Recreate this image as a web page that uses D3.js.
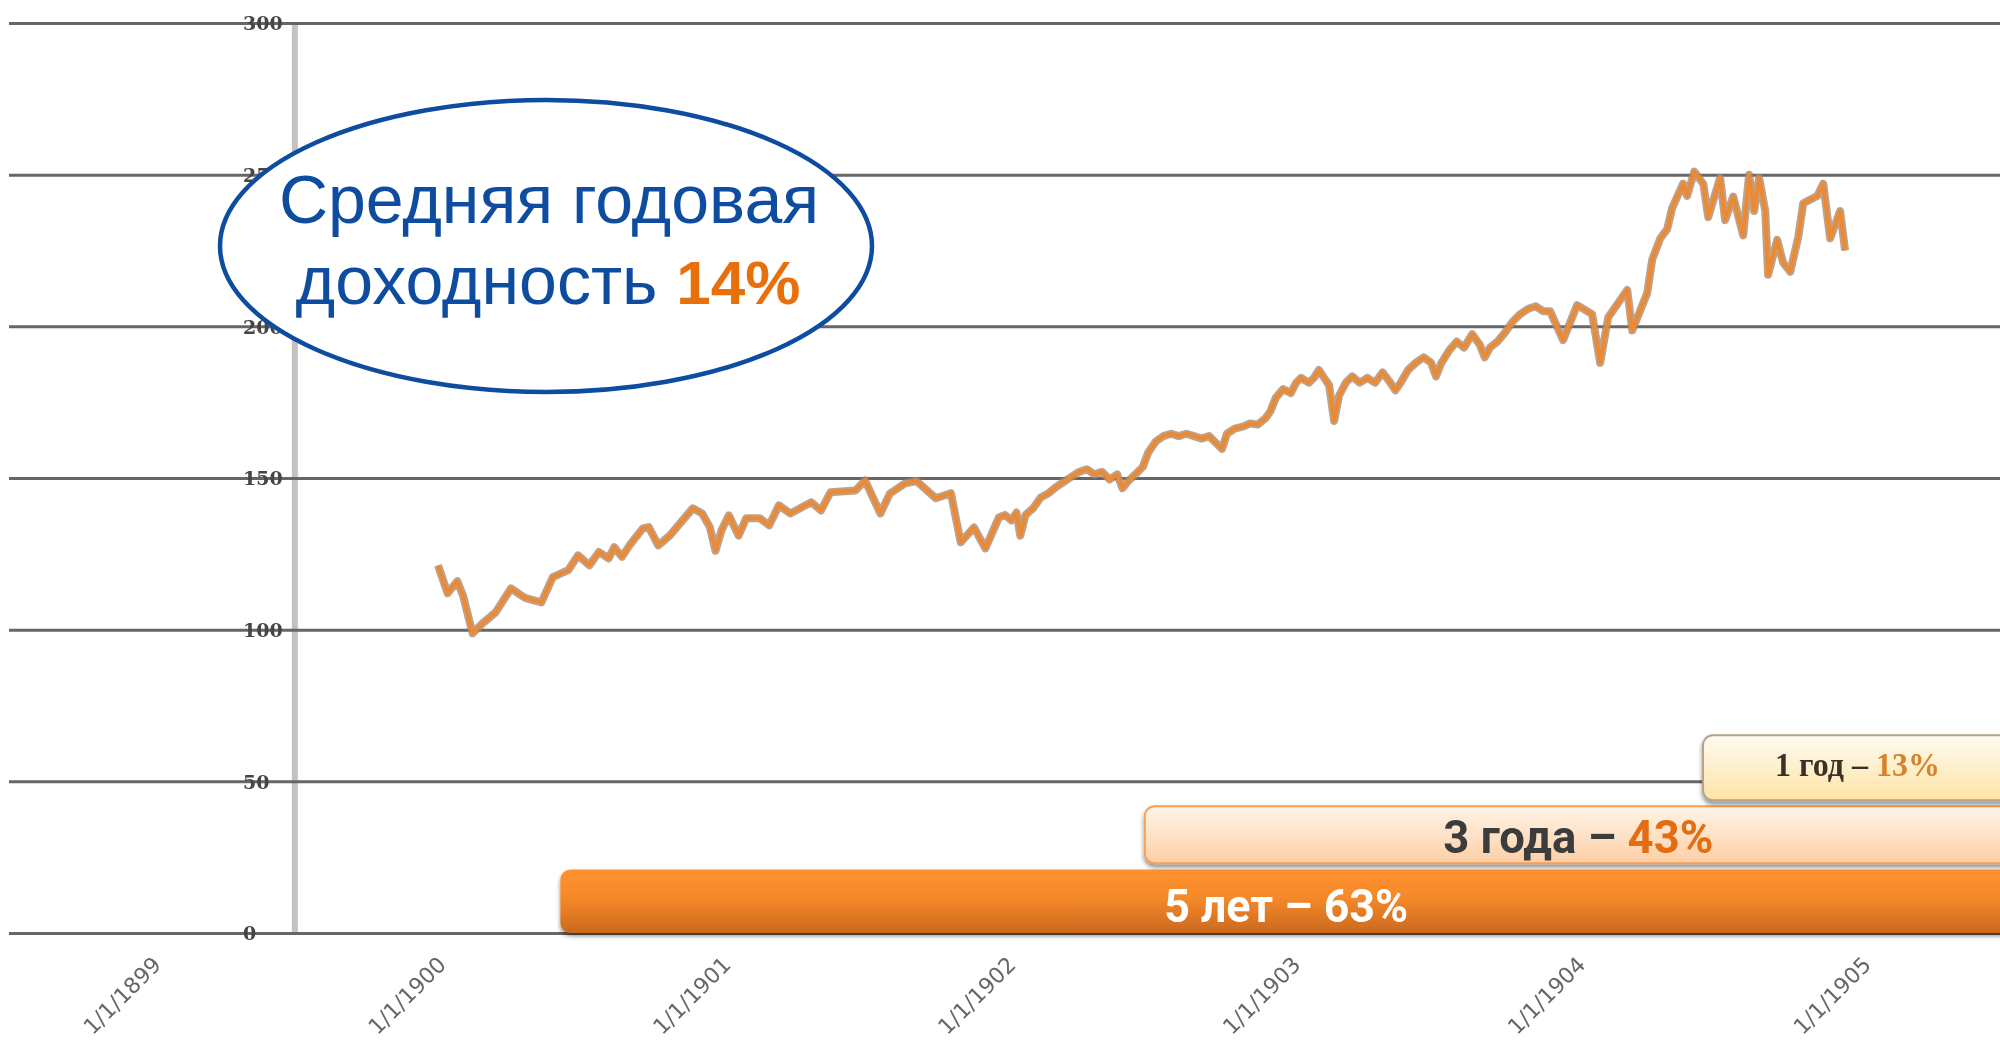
<!DOCTYPE html>
<html>
<head>
<meta charset="utf-8">
<script src="https://cdn.jsdelivr.net/npm/d3@7"></script>
<style>
  html, body { margin: 0; padding: 0; background: #fff; overflow: hidden; }
</style>
</head>
<body>
<div id="chart"></div>
<script>
// price series: months since 1/1/1900 and index value
const monthOffsets = [
  0.05, 0.45, 0.86, 1.10, 1.50, 1.91, 2.47, 3.12, 3.70, 4.40, 4.88, 5.53, 5.94, 6.42, 6.82, 7.23, 7.47, 7.79,
  8.11, 8.67, 8.92, 9.32, 9.80, 10.77, 11.17, 11.49, 11.73, 11.98, 12.29, 12.70, 13.02, 13.59, 13.99, 14.40,
  14.88, 15.76, 16.17, 16.57, 17.62, 18.02, 18.67, 19.07, 19.71, 20.19, 21.00, 21.64, 22.05, 22.61, 23.09, 23.66,
  23.92, 24.19, 24.40, 24.56, 24.78, 25.10, 25.42, 25.75, 26.06, 26.39, 26.71, 27.03, 27.36, 27.68, 28.00, 28.32,
  28.64, 28.86, 29.07, 29.40, 29.72, 29.94, 30.26, 30.58, 30.91, 31.23, 31.55, 31.87, 32.19, 32.51, 32.83, 33.05,
  33.26, 33.59, 33.96, 34.23, 34.55, 34.88, 35.09, 35.31, 35.62, 35.95, 36.17, 36.38, 36.70, 36.92, 37.13, 37.35,
  37.56, 37.77, 37.98, 38.26, 38.53, 38.85, 39.17, 39.49, 39.81, 40.14, 40.35, 40.57, 40.88, 41.21, 41.54, 41.85,
  42.06, 42.27, 42.61, 42.93, 43.24, 43.58, 43.90, 44.11, 44.33, 44.65, 44.97, 45.29, 45.60, 45.94, 46.26, 46.57,
  46.86, 47.41, 48.00, 48.63, 48.97, 49.31, 50.11, 50.32, 50.95, 51.16, 51.50, 51.79, 52.00, 52.46, 52.63, 52.93,
  53.31, 53.52, 54.02, 54.23, 54.57, 54.99, 55.24, 55.45, 55.66, 55.92, 56.04, 56.42, 56.67, 56.97, 57.31, 57.52,
  58.11, 58.36, 58.65, 59.07, 59.28
];
const prices = [
  121.2, 112, 116, 111.3, 98.8, 102, 105.7, 113.6, 110.5, 109, 117.3, 119.6, 124.5, 121.2, 125.6, 123.5, 127.2, 124,
  127.8, 133.4, 133.8, 127.8, 131, 140, 138.3, 133.8, 126, 132.7, 137.7, 131, 136.7, 136.7, 134.4, 141,
  138.3, 142, 139.3, 145.3, 145.9, 149.2, 138.3, 144.9, 148.2, 149, 143.3, 145, 128.8, 133.7, 126.8, 137,
  137.8, 136, 138.6, 131, 137.8, 140, 143.6, 145, 147, 148.7, 150.4, 152, 152.9, 151.2, 152, 149.5,
  151.2, 146.6, 148.7, 151.2, 153.7, 158.3, 162, 163.8, 164.6, 163.8, 164.6, 163.8, 163, 163.8, 161.3, 159.6,
  164.6, 166.3, 167, 168, 167.6, 169.7, 172, 176.4, 179.3, 178, 181.4, 183, 181.4, 183, 185.6, 183,
  180.6, 168.8, 177.2, 181.4, 183.5, 181.4, 183, 181.4, 184.8, 181.4, 178.9, 181.4, 185.6, 188, 189.8, 188,
  183.5, 187.7, 192, 195, 193, 197.4, 194, 189.8, 193, 195, 198, 201.6, 204, 205.8, 206.6, 205,
  205, 195.5, 207, 204, 188, 203, 212, 198.6, 211, 222, 229, 232, 239, 247, 243, 251,
  247, 236, 249, 235, 242.8, 230, 250, 238, 249, 238, 217, 228.5, 221, 218, 229.5, 240.6,
  243, 247, 229, 238, 225
];

const yTicks = [0, 50, 100, 150, 200, 250, 300];

// holding periods (months since 1/1/1900) and their total returns
const periodLabels = ["5 лет", "3 года", "1 год"];
const periodReturns = ["63%", "43%", "13%"];
const periodStartMonths = [5.2, 29.8, 53.3];
const periodEndMonth = 66.3;

const titleLine1 = "Средняя годовая";
const titleLine2 = "доходность ";
const avgReturn = "14%";

const width = 2000, height = 1042;
const base = new Date(1900, 0, 1);
const monthToDate = m => new Date(+base + m * 30.4375 * 864e5);

const data = monthOffsets.map((m, i) => ({date: monthToDate(m), value: prices[i]}));

const svg = d3.select("#chart")
  .append("svg")
    .attr("width", width)
    .attr("height", height);

const defs = svg.append("defs");
defs.append("filter").attr("id", "soft")
  .append("feGaussianBlur").attr("stdDeviation", 0.7);
defs.append("filter").attr("id", "shadow")
    .attr("x", "-5%").attr("y", "-20%").attr("width", "110%").attr("height", "150%")
  .append("feDropShadow")
    .attr("dx", 0).attr("dy", 3).attr("stdDeviation", 2)
    .attr("flood-color", "#000").attr("flood-opacity", 0.45);

function gradient(id, stops) {
  const g = defs.append("linearGradient").attr("id", id)
    .attr("x1", 0).attr("y1", 0).attr("x2", 0).attr("y2", 1);
  stops.forEach(s => g.append("stop").attr("offset", s[0]).attr("stop-color", s[1]));
}
gradient("g5", [[0, "#ff922f"], [0.45, "#f5882a"], [1, "#cb691d"]]);
gradient("g3", [[0, "#fff4e8"], [1, "#fdcfa6"]]);
gradient("g1", [[0, "#fffbf2"], [1, "#fde3a6"]]);

// scales
const x = d3.scaleTime()
  .domain([new Date(1899, 0, 1), new Date(1905, 0, 1)])
  .range([152, 1862]);
const y = d3.scaleLinear()
  .domain([0, 300])
  .range([933, 23]);

// vertical axis line
const axisCross = new Date(1899, 6, 3);
svg.append("line")
  .attr("x1", x(axisCross)).attr("x2", x(axisCross))
  .attr("y1", y(300)).attr("y2", y(0))
  .attr("stroke", "#c2c2c2")
  .attr("stroke-width", 6);

// horizontal gridlines + labels
const grid = svg.append("g")
  .attr("transform", "translate(9,0)")
  .attr("filter", "url(#soft)")
  .call(d3.axisRight(y).tickValues(yTicks).tickSize(width - 9));
grid.select(".domain").remove();
grid.selectAll(".tick line")
  .attr("stroke", "#666")
  .attr("stroke-width", 3);
grid.selectAll(".tick text")
  .attr("x", 234)
  .attr("dy", "0.36em")
  .attr("text-anchor", "start")
  .style("font-family", "DejaVu Serif")
  .style("font-weight", "bold")
  .style("font-size", "19px")
  .attr("fill", "#444");

// x axis
const xAxis = svg.append("g")
  .attr("transform", "translate(0,966)")
  .attr("filter", "url(#soft)")
  .call(d3.axisBottom(x)
    .ticks(d3.timeYear.every(1))
    .tickFormat(d3.timeFormat("%-m/%-d/%Y"))
    .tickSize(0));
xAxis.select(".domain").remove();
xAxis.selectAll("text")
  .attr("x", 0).attr("y", 0).attr("dy", 0)
  .attr("transform", "translate(10,0)rotate(-45)")
  .style("text-anchor", "end")
  .style("font-family", "DejaVu Sans")
  .style("font-size", "22px")
  .attr("fill", "#666");

// price line
const line = d3.line()
  .x(d => x(d.date))
  .y(d => y(d.value));
svg.append("path")
  .datum(data)
  .attr("d", line)
  .attr("fill", "none")
  .attr("stroke", "#b08a6c")
  .attr("stroke-width", 8)
  .attr("stroke-linejoin", "round")
  .attr("opacity", 0.8)
  .attr("filter", "url(#soft)");
svg.append("path")
  .datum(data)
  .attr("d", line)
  .attr("fill", "none")
  .attr("stroke", "#ec8a34")
  .attr("stroke-width", 4)
  .attr("stroke-linejoin", "round");

// holding period bars
const rows = [
  {top: y(20.9), bottom: y(0), fill: "url(#g5)", stroke: "none", font: "Roboto", size: 46, base: y(3.6), main: "#fff", accent: "#fff", width: 244},
  {top: y(41.8), bottom: y(23), fill: "url(#g3)", stroke: "#f3a05a", font: "Roboto", size: 46, base: y(26.4), main: "#3c3c3c", accent: "#e36d10", width: 270},
  {top: y(65.2), bottom: y(43.8), fill: "url(#g1)", stroke: "#b3a48e", font: "Liberation Serif", size: 34, base: y(51.6), main: "#3a3228", accent: "#d9822b", width: 165}
];
periodLabels.forEach((label, i) => {
  const r = rows[i];
  const x0 = x(monthToDate(periodStartMonths[i]));
  const x1 = x(monthToDate(periodEndMonth));
  svg.append("rect")
    .attr("x", x0).attr("y", r.top)
    .attr("width", x1 - x0).attr("height", r.bottom - r.top)
    .attr("rx", 10)
    .attr("fill", r.fill)
    .attr("stroke", r.stroke)
    .attr("stroke-width", 2)
    .attr("filter", "url(#shadow)");
  const t = svg.append("text")
    .attr("x", (x0 + x1) / 2).attr("y", r.base)
    .attr("text-anchor", "middle")
    .attr("textLength", r.width)
    .attr("lengthAdjust", "spacingAndGlyphs")
    .style("font-family", r.font)
    .style("font-weight", "bold")
    .style("font-size", r.size + "px")
    .attr("fill", r.main);
  if (i === 2) t.attr("filter", "url(#soft)");
  t.append("tspan").text(label + " – ");
  t.append("tspan").attr("fill", r.accent).text(periodReturns[i]);
});

// average return callout
svg.append("ellipse")
  .attr("cx", 546).attr("cy", 246)
  .attr("rx", 326).attr("ry", 146)
  .attr("fill", "#fff")
  .attr("stroke", "#0e4c9f")
  .attr("stroke-width", 4.5);
svg.append("text")
  .attr("x", 549).attr("y", 223)
  .attr("text-anchor", "middle")
  .style("font-family", "Liberation Sans")
  .style("font-size", "68px")
  .attr("fill", "#0e4c9f")
  .text(titleLine1);
const t2 = svg.append("text")
  .attr("x", 548).attr("y", 304)
  .attr("text-anchor", "middle")
  .style("font-family", "Liberation Sans")
  .style("font-size", "68px")
  .attr("fill", "#0e4c9f");
t2.append("tspan").text(titleLine2);
t2.append("tspan")
  .style("font-weight", "bold")
  .style("font-size", "62px")
  .attr("fill", "#e8700c")
  .text(avgReturn);
</script>
</body>
</html>
